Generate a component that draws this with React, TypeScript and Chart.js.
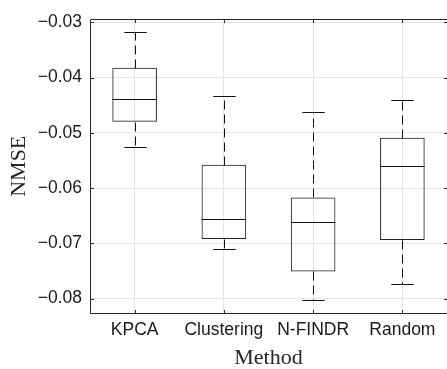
import React, { useEffect, useRef } from "react";
import { Chart, registerables } from "chart.js";

Chart.register(...registerables);

const categories = ["KPCA", "Clustering", "N-FINDR", "Random"];
const lowerWhisker = [-0.0526, -0.0711, -0.0803, -0.0773];
const q1 = [-0.048, -0.0692, -0.0751, -0.0694];
const median = [-0.0439, -0.0656, -0.0662, -0.056];
const q3 = [-0.0382, -0.0558, -0.0617, -0.0509];
const upperWhisker = [-0.0317, -0.0434, -0.0462, -0.0441];
const yTicks = [-0.08, -0.07, -0.06, -0.05, -0.04, -0.03];
const yMin = -0.0828;
const yMax = -0.0293;

const AXIS = "#262626";

const boxPlugin = {
  id: "boxExtras",
  afterDatasetsDraw(chart: any) {
    const ctx = chart.ctx;
    const y = chart.scales.y;
    const meta = chart.getDatasetMeta(0);
    ctx.save();
    ctx.lineWidth = 1;
    ctx.strokeStyle = "#111";
    const line = (x1: number, y1: number, x2: number, y2: number) => {
      ctx.beginPath();
      ctx.moveTo(x1, y1);
      ctx.lineTo(x2, y2);
      ctx.stroke();
    };
    meta.data.forEach((bar: any, i: number) => {
      const x = Math.round(bar.x) + 0.5;
      const hw = bar.width / 2;
      const py = (v: number) => Math.round(y.getPixelForValue(v)) + 0.5;
      ctx.setLineDash([]);
      line(bar.x - hw, py(median[i]), bar.x + hw, py(median[i]));
      line(x - hw / 2, py(upperWhisker[i]), x + hw / 2, py(upperWhisker[i]));
      line(x - hw / 2, py(lowerWhisker[i]), x + hw / 2, py(lowerWhisker[i]));
      ctx.setLineDash([9, 5]);
      line(x, py(q3[i]), x, py(upperWhisker[i]));
      line(x, py(q1[i]), x, py(lowerWhisker[i]));
    });
    ctx.restore();
  },
  afterDraw(chart: any) {
    const ctx = chart.ctx;
    const { left, right, top, bottom } = chart.chartArea;
    const L = Math.round(left) + 0.5;
    const R = Math.round(right) + 0.5;
    const T = Math.round(top) + 0.5;
    const B = Math.round(bottom) - 0.5;
    ctx.save();
    ctx.setLineDash([]);
    ctx.lineWidth = 1;
    ctx.strokeStyle = AXIS;
    ctx.beginPath();
    ctx.moveTo(L, B);
    ctx.lineTo(L, T);
    ctx.lineTo(R, T);
    ctx.lineTo(R, B);
    ctx.lineTo(L, B);
    ctx.stroke();
    const tl = 3.5;
    const xs = chart.scales.x;
    const ys = chart.scales.y;
    categories.forEach((_, i) => {
      const px = Math.round(xs.getPixelForValue(i)) + 0.5;
      ctx.beginPath();
      ctx.moveTo(px, B);
      ctx.lineTo(px, B - tl);
      ctx.moveTo(px, T);
      ctx.lineTo(px, T + tl);
      ctx.stroke();
    });
    yTicks.forEach((v) => {
      const py = Math.round(ys.getPixelForValue(v)) + 0.5;
      ctx.beginPath();
      ctx.moveTo(L, py);
      ctx.lineTo(L + tl, py);
      ctx.moveTo(R, py);
      ctx.lineTo(R - tl, py);
      ctx.stroke();
    });
    ctx.restore();
  },
};

export default function App() {
  const ref = useRef<HTMLCanvasElement>(null);
  useEffect(() => {
    if (!ref.current) return;
    const chart = new Chart(ref.current, {
      type: "bar",
      data: {
        labels: categories,
        datasets: [
          {
            data: categories.map((_, i) => [q1[i], q3[i]]) as any,
            backgroundColor: "rgba(0,0,0,0)",
            borderColor: "#222",
            borderWidth: 1,
            borderSkipped: false,
            barPercentage: 0.5,
            categoryPercentage: 1,
          },
        ],
      },
      options: {
        animation: false,
        responsive: true,
        maintainAspectRatio: false,
        events: [],
        layout: { padding: { top: 11, right: 0, left: 0, bottom: 0 } },
        plugins: { legend: { display: false }, tooltip: { enabled: false } },
        scales: {
          x: {
            offset: true,
            grid: { offset: false, color: "#e6e6e6", drawTicks: false },
            border: { display: false },
            ticks: {
              color: "#1a1a1a",
              padding: 6,
              font: { family: "Liberation Sans", size: 17.5 },
            },
            title: {
              display: true,
              text: "Method",
              color: "#262626",
              font: { family: "Liberation Serif", size: 22, lineHeight: 1 },
              padding: { top: 0, bottom: 0 },
            },
            afterFit: (s: any) => {
              s.height = 55;
            },
          },
          y: {
            min: yMin,
            max: yMax,
            grid: { color: "#e6e6e6", drawTicks: false },
            border: { display: false },
            afterBuildTicks: (s: any) => {
              s.ticks = yTicks.map((v) => ({ value: v }));
            },
            ticks: {
              color: "#1a1a1a",
              padding: 8,
              font: { family: "Liberation Sans", size: 17.5 },
              callback: (v: any) => "\u2212" + Math.abs(Number(v)).toFixed(2),
            },
            title: {
              display: true,
              text: "NMSE",
              color: "#262626",
              font: { family: "Liberation Serif", size: 22, lineHeight: 1 },
              padding: { top: 8, bottom: 0 },
            },
            afterFit: (s: any) => {
              s.width = 90;
            },
          },
        },
      },
      plugins: [boxPlugin],
    });
    return () => chart.destroy();
  }, []);
  return (
    <div style={{ position: "fixed", left: 0, top: 0, width: 447, height: 369, background: "#fff" }}>
      <canvas ref={ref} />
    </div>
  );
}
